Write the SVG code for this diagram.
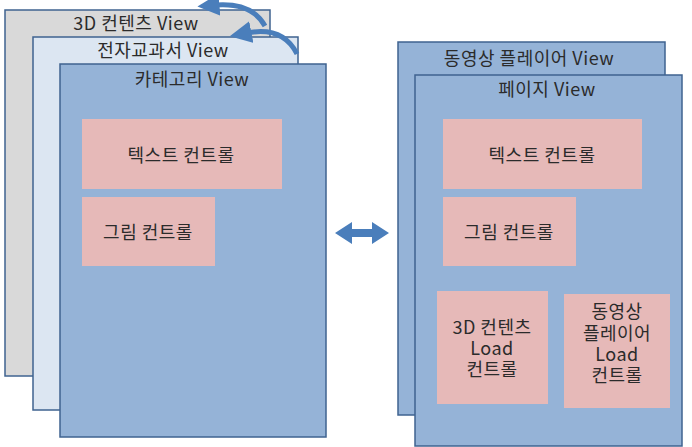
<svg xmlns="http://www.w3.org/2000/svg" width="692" height="447" viewBox="0 0 692 447">
<defs>
<style>
.t{font-family:"Noto Sans CJK KR","Noto Sans",sans-serif;font-size:18px;letter-spacing:0.5px;fill:#2b2b2b;text-anchor:middle}
.v{stroke:#3f6390;stroke-width:1.5}
.p{fill:#e6b9b8}
.arc{fill:none;stroke:#4a7ebb;stroke-width:5}
</style>
<marker id="ah" viewBox="0 0 10 10" refX="2" refY="5" markerWidth="4.4" markerHeight="4.4" orient="auto"><path d="M0,0 L10,5 L0,10 z" fill="#4a7ebb"/></marker>
</defs>
<rect width="692" height="447" fill="#fff"/>
<g id="view-3d">
<rect class="v" x="5" y="10" width="265" height="366" fill="#d9d9d9"/>
<text class="t" x="136" y="30">3D 컨텐츠 View</text>
</g>
<g id="view-textbook">
<rect class="v" x="33" y="37" width="265" height="373" fill="#dce6f2"/>
<text class="t" x="163" y="57">전자교과서 View</text>
</g>
<g id="view-category">
<rect class="v" x="60" y="64" width="266" height="373" fill="#95b3d7"/>
<text class="t" x="192" y="86">카테고리 View</text>
</g>
<g id="left-text-ctrl">
<rect class="p" x="82" y="119" width="200" height="70"/>
<text class="t" x="181" y="162">텍스트 컨트롤</text>
</g>
<g id="left-image-ctrl">
<rect class="p" x="82" y="197" width="133" height="69"/>
<text class="t" x="148" y="239">그림 컨트롤</text>
</g>
<g id="view-video">
<rect class="v" x="398" y="42" width="267" height="373" fill="#95b3d7"/>
<text class="t" x="529" y="65">동영상 플레이어 View</text>
</g>
<g id="view-page">
<rect class="v" x="415" y="75" width="267" height="371" fill="#95b3d7"/>
<text class="t" x="547" y="96">페이지 View</text>
</g>
<g id="right-text-ctrl">
<rect class="p" x="443" y="119" width="199" height="70"/>
<text class="t" x="542" y="162">텍스트 컨트롤</text>
</g>
<g id="right-image-ctrl">
<rect class="p" x="443" y="197" width="133" height="69"/>
<text class="t" x="509" y="239">그림 컨트롤</text>
</g>
<g id="load-3d-ctrl">
<rect class="p" x="437" y="291" width="111" height="113"/>
<text class="t" x="492" y="334">3D 컨텐츠</text>
<text class="t" x="492" y="355">Load</text>
<text class="t" x="492" y="376">컨트롤</text>
</g>
<g id="load-video-ctrl">
<rect class="p" x="564" y="294" width="106" height="114"/>
<text class="t" x="617" y="318">동영상</text>
<text class="t" x="617" y="340">플레이어</text>
<text class="t" x="617" y="361">Load</text>
<text class="t" x="617" y="382">컨트롤</text>
</g>
<g id="connectors">
<path class="arc" d="M265,26 Q252,2 215,5" marker-end="url(#ah)"/>
<path class="arc" d="M297,54 Q283,26 247,33" marker-end="url(#ah)"/>
<path d="M335,233 L352,222 L352,229 L372,229 L372,222 L389,233 L372,244 L372,237 L352,237 L352,244 Z" fill="#4a7ebb"/>
</g>
</svg>
